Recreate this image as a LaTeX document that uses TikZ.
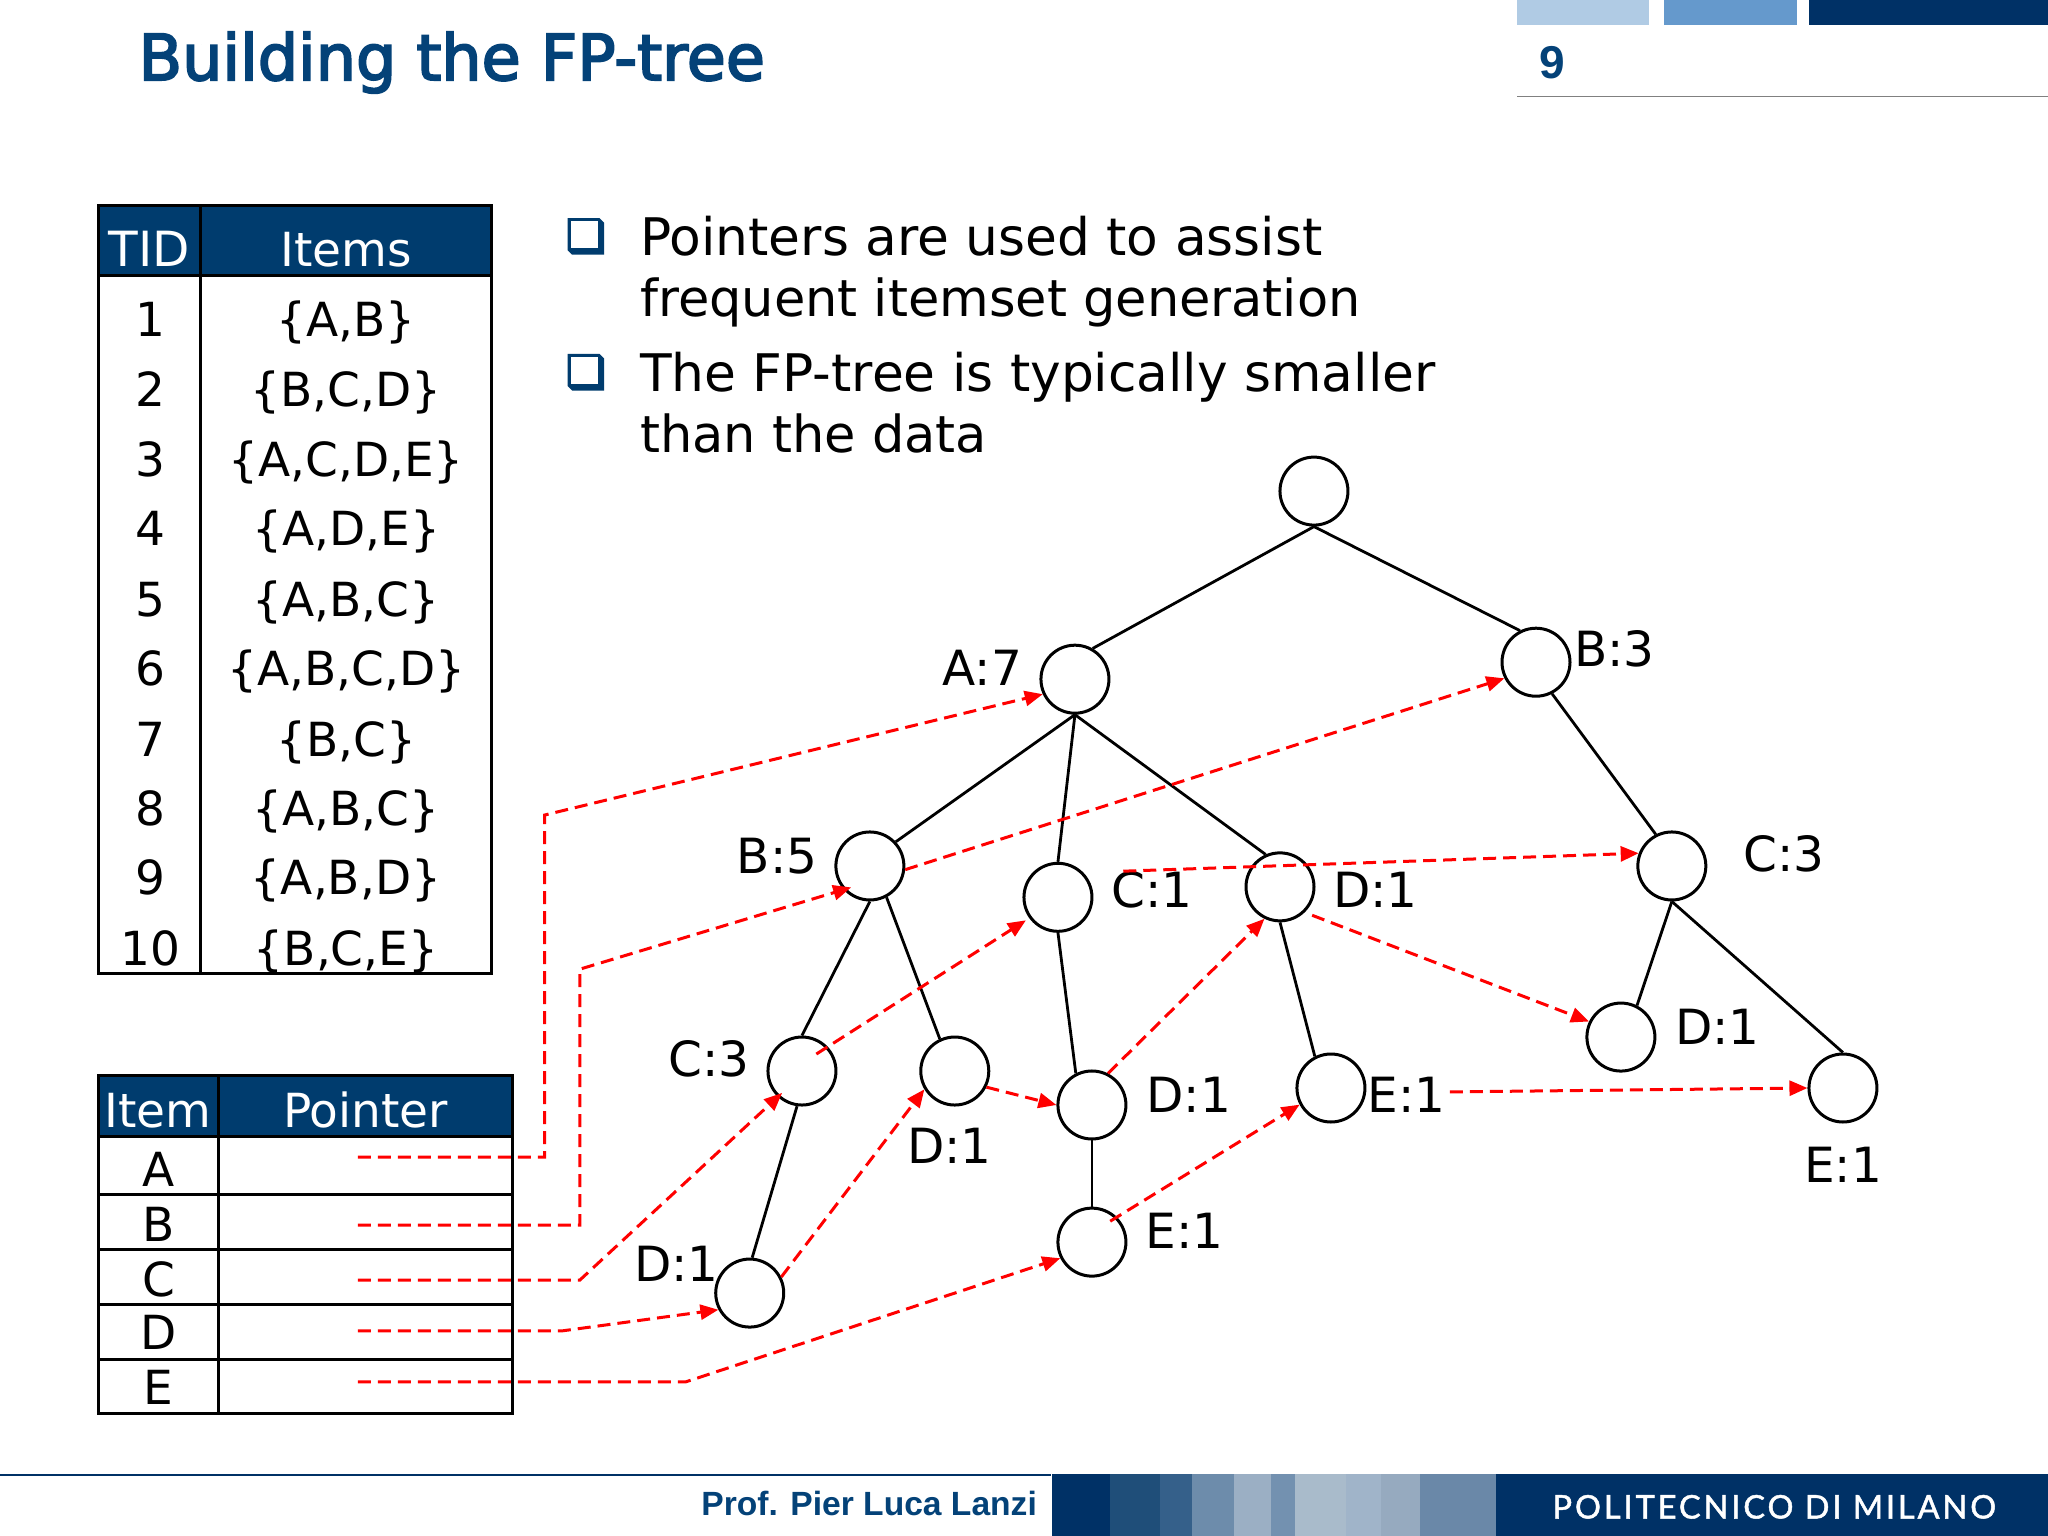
\documentclass[tikz,border=0pt]{standalone}
\usepackage{fontspec}
\setmainfont{DejaVu Sans}
\newfontfamily\arialb{Liberation Sans}[BoldFont={Liberation Sans Bold}]
\newfontfamily\polifont[LetterSpace=9,FakeBold=1.5]{Lato}
\newfontfamily\titlefont[FakeBold=3]{DejaVu Sans}
\usetikzlibrary{arrows.meta}
\definecolor{navy}{RGB}{0,49,102}
\definecolor{headblue}{RGB}{0,60,110}
\definecolor{titleblue}{RGB}{4,66,120}
\tikzset{
  circ/.style={circle,draw=black,line width=3pt,minimum size=68pt,inner sep=0pt},
  edge/.style={draw=black,line width=2.8pt},
  ptr/.style={draw=red,line width=3pt,dash pattern=on 13pt off 7pt,-{Triangle[length=18pt,width=15pt]}},
  lab/.style={font=\fontsize{48.5}{54}\selectfont,inner sep=0pt,anchor=base},
  cell/.style={font=\fontsize{47}{50}\selectfont,inner sep=0pt,anchor=base},
  hcell/.style={font=\fontsize{47}{50}\selectfont,inner sep=0pt,anchor=base,text=white},
  body/.style={font=\fontsize{51}{54}\selectfont,inner sep=0pt,anchor=base west},
  grid/.style={draw=black,line width=3pt},
}
\begin{document}
\begin{tikzpicture}[x=1.30612pt,y=-1.30612pt]
\useasboundingbox (0,0) rectangle (1568,1176);
\fill[white] (0,0) rectangle (1568,1176);

% top bars
\fill[fill={rgb,255:red,176;green,203;blue,228}] (1161.5,0) rectangle (1262.5,19.4);
\fill[fill={rgb,255:red,101;green,153;blue,204}] (1274,0) rectangle (1376,19.4);
\fill[navy] (1385,0) rectangle (1568,19.4);
\draw[gray,line width=1.5pt] (1161.5,74) -- (1568,74);
\node[inner sep=0pt,anchor=base west,text=titleblue] (pagenum) at (1178.5,60) {\arialb\bfseries\fontsize{46}{50}\selectfont 9};
\node[inner sep=0pt,anchor=base west,text=titleblue] (title) at (106,61.3) {\titlefont\fontsize{63.5}{66}\selectfont Building the FP-tree};

% footer
\fill[navy] (0,1128.5) rectangle (805,1130.2);
\fill[navy] (805.5,1128.5) rectangle (1568,1176);
\fill[fill={rgb,255:red,31;green,78;blue,121}] (849.5,1128.5) rectangle (888,1176);
\fill[fill={rgb,255:red,53;green,96;blue,138}] (888,1128.5) rectangle (912.5,1176);
\fill[fill={rgb,255:red,109;green,140;blue,171}] (912.5,1128.5) rectangle (944.5,1176);
\fill[fill={rgb,255:red,155;green,175;blue,196}] (944.5,1128.5) rectangle (973,1176);
\fill[fill={rgb,255:red,115;green,145;blue,176}] (973,1128.5) rectangle (991.5,1176);
\fill[fill={rgb,255:red,169;green,187;blue,203}] (991.5,1128.5) rectangle (1030.5,1176);
\fill[fill={rgb,255:red,160;green,180;blue,201}] (1030.5,1128.5) rectangle (1057.5,1176);
\fill[fill={rgb,255:red,150;green,170;blue,191}] (1057.5,1128.5) rectangle (1087,1176);
\fill[fill={rgb,255:red,106;green,136;blue,168}] (1087,1128.5) rectangle (1145,1176);
\node[inner sep=0pt,anchor=base east,text=titleblue] (prof) at (794,1160) {\arialb\bfseries\fontsize{33.6}{36}\selectfont Prof. Pier Luca Lanzi};
\node[inner sep=0pt,anchor=base west,text=white] (poli) at (1188.5,1162.6) {\polifont\fontsize{32.5}{36}\selectfont POLITECNICO DI MILANO};

% TID table
\fill[headblue] (75.5,157) rectangle (376.5,211);
\draw[grid] (75.5,157) rectangle (376.5,745);
\draw[grid] (153.5,157) -- (153.5,745);
\draw[grid] (75.5,211) -- (376.5,211);
\node[hcell,font=\fontsize{48.5}{54}\selectfont] (hTID) at (114.5,204) {TID};
\node[hcell] (hItems) at (265,204) {Items};
\node[cell] (t1) at (115,258) {1};   \node[cell] (s1) at (265,258) {\{A,B\}};
\node[cell] (t2) at (115,311) {2};   \node[cell] (s2) at (265,311) {\{B,C,D\}};
\node[cell] (t3) at (115,365) {3};   \node[cell] (s3) at (265,365) {\{A,C,D,E\}};
\node[cell] (t4) at (115,418) {4};   \node[cell] (s4) at (265,418) {\{A,D,E\}};
\node[cell] (t5) at (115,472) {5};   \node[cell] (s5) at (265,472) {\{A,B,C\}};
\node[cell] (t6) at (115,525) {6};   \node[cell] (s6) at (265,525) {\{A,B,C,D\}};
\node[cell] (t7) at (115,579) {7};   \node[cell] (s7) at (265,579) {\{B,C\}};
\node[cell] (t8) at (115,632) {8};   \node[cell] (s8) at (265,632) {\{A,B,C\}};
\node[cell] (t9) at (115,685) {9};   \node[cell] (s9) at (265,685) {\{A,B,D\}};
\node[cell] (t10) at (115,739) {10}; \node[cell] (s10) at (265,739) {\{B,C,E\}};

% Item table
\fill[headblue] (75.5,823.5) rectangle (392,870);
\draw[grid] (75.5,823.5) rectangle (392,1082);
\draw[grid] (167,823.5) -- (167,1082);
\draw[grid] (75.5,870) -- (392,870);
\draw[grid] (75.5,914.5) -- (392,914.5);
\draw[grid] (75.5,956.5) -- (392,956.5);
\draw[grid] (75.5,998.5) -- (392,998.5);
\draw[grid] (75.5,1040.5) -- (392,1040.5);
\node[hcell] (hItem) at (121,863) {Item};
\node[hcell] (hPointer) at (280,863) {Pointer};
\node[cell] (iA) at (121.5,908.5) {A};
\node[cell] (iB) at (121.5,950.5) {B};
\node[cell] (iC) at (121.5,992.5) {C};
\node[cell] (iD) at (121.5,1033.5) {D};
\node[cell] (iE) at (121.5,1075.5) {E};

% bullets
\foreach \yy in {167,271}{
  \fill[fill=headblue] (434.5,\yy) -- (459,\yy) -- (462.5,\yy+3.5) -- (462.5,\yy+28) -- (438,\yy+28) -- (434.5,\yy+24.5) -- cycle;
  \fill[white] (436.8,\yy+2.3) rectangle (458,\yy+23);
}
\node[body,font=\fontsize{51.8}{54}\selectfont] (b1a) at (490,195.5) {Pointers are used to assist};
\node[body] (b1b) at (490,242.5) {frequent itemset generation};
\node[body,font=\fontsize{51.8}{54}\selectfont] (b2a) at (490,299.5) {The FP-tree is typically smaller};
\node[body] (b2b) at (490,346.5) {than the data};

% tree nodes
\node[circ] (root) at (1006,376) {};
\node[circ] (A) at (823,520) {};
\node[circ] (Bt) at (1176,507) {};
\node[circ] (Bf) at (666,663) {};
\node[circ] (Co) at (810,687) {};
\node[circ] (Da) at (980,679) {};
\node[circ] (Cr) at (1280,663) {};
\node[circ] (Cl) at (614,820) {};
\node[circ] (Db) at (731,820) {};
\node[circ] (Dc) at (836,846) {};
\node[circ] (Ea) at (1019,833) {};
\node[circ] (Dd) at (1241,794) {};
\node[circ] (Eb) at (1411,833) {};
\node[circ] (Ec) at (836,951) {};
\node[circ] (De) at (574,990) {};

% labels
\node[lab] (lA) at (752,524.5) {A:7};
\node[lab] (lBt) at (1236,510.5) {B:3};
\node[lab] (lBf) at (595,668.5) {B:5};
\node[lab] (lCo) at (882,694.5) {C:1};
\node[lab] (lDa) at (1053,694.5) {D:1};
\node[lab] (lCr) at (1366,667.5) {C:3};
\node[lab] (lCl) at (543,824.5) {C:3};
\node[lab] (lDb) at (727,890.5) {D:1};
\node[lab] (lDc) at (910,851.5) {D:1};
\node[lab] (lEa) at (1077,851.5) {E:1};
\node[lab] (lDd) at (1315,799.5) {D:1};
\node[lab] (lEb) at (1411,905.5) {E:1};
\node[lab] (lEc) at (907,955.5) {E:1};
\node[lab] (lDe) at (518,981.5) {D:1};

% tree edges
\draw[edge] (root.south) -- (A.60);
\draw[edge] (root.south) -- (Bt.117);
\draw[edge] (A.south) -- (Bf.43);
\draw[edge] (A.south) -- (Co.north);
\draw[edge] (A.south) -- (Da.114);
\draw[edge] (Bt.297) -- (Cr.117);
\draw[edge] (Bf.south) -- (Cl.north);
\draw[edge] (Bf.298) -- (Db.115);
\draw[edge] (Co.south) -- (Dc.117);
\draw[edge] (Da.south) -- (Ea.117);
\draw[edge] (Dc.south) -- (Ec.north);
\draw[edge] (Cr.south) -- (Dd.63);
\draw[edge] (Cr.south) -- (Eb.north);
\draw[edge] (Cl.262) -- (De.86);

% pointer coordinates
\coordinate (pA) at (274,886);
\coordinate (pB) at (274,938);
\coordinate (pC) at (274,980);
\coordinate (pD) at (274,1019);
\coordinate (pE) at (274,1058);
\coordinate (bA1) at (417,886);
\coordinate (bA2) at (417,624);
\coordinate (bB1) at (444,938);
\coordinate (bB2) at (444,742);
\coordinate (bC1) at (444,980);
\coordinate (bD1) at (430,1019);
\coordinate (bE1) at (525,1058);
\coordinate (sCo) at (860,667);
\coordinate (sCl) at (625,807);
\coordinate (sEa) at (1110,836);

% header-table pointers
\draw[ptr] (pA) -- (bA1) -- (bA2) -- (A.205);
\draw[ptr,shorten >=-8pt] (pB) -- (bB1) -- (bB2) -- (Bf.222);
\draw[ptr,shorten >=-6pt] (pC) -- (bC1) -- (Cl.227);
\draw[ptr] (pD) -- (bD1) -- (De.208);
\draw[ptr] (pE) -- (bE1) -- (Ec.207);

% node links
\draw[ptr] (Bf.354) -- (Bt.207);
\draw[ptr] (sCo) -- (Cr.159);
\draw[ptr,shorten >=4pt] (sCl) -- (Co.216);
\draw[ptr] (De.27) -- (Db.211);
\draw[ptr] (Db.333) -- (Dc.180);
\draw[ptr] (Dc.63) -- (Da.244);
\draw[ptr,shorten <=8pt] (Da.314) -- (Dd.154);
\draw[ptr,shorten <=-8pt] (Ec.45) -- (Ea.208);
\draw[ptr] (sEa) -- (Eb.180);
\end{tikzpicture}
\end{document}
